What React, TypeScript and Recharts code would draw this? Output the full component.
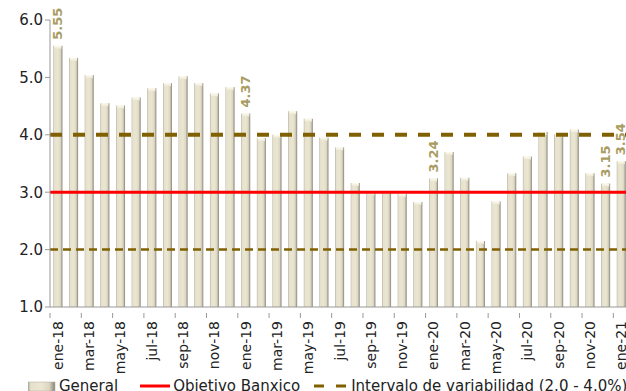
import React from "react";
import { BarChart, Bar, XAxis, YAxis, ReferenceLine, LabelList, Legend } from "recharts";

// months ene-18 .. ene-21
const months = [
  "ene-18", "feb-18", "mar-18", "abr-18", "may-18", "jun-18", "jul-18", "ago-18", "sep-18", "oct-18", "nov-18", "dic-18",
  "ene-19", "feb-19", "mar-19", "abr-19", "may-19", "jun-19", "jul-19", "ago-19", "sep-19", "oct-19", "nov-19", "dic-19",
  "ene-20", "feb-20", "mar-20", "abr-20", "may-20", "jun-20", "jul-20", "ago-20", "sep-20", "oct-20", "nov-20", "dic-20",
  "ene-21",
];

const general = [
  5.55, 5.34, 5.04, 4.55, 4.51, 4.65, 4.81, 4.90, 5.02, 4.90, 4.72, 4.83,
  4.37, 3.94, 4.00, 4.41, 4.28, 3.95, 3.78, 3.16, 3.00, 3.02, 2.97, 2.83,
  3.24, 3.70, 3.25, 2.15, 2.84, 3.33, 3.62, 4.05, 4.01, 4.09, 3.33, 3.15,
  3.54,
];

const labeled = ["ene-18", "ene-19", "ene-20", "dic-20", "ene-21"];

const objetivo = 3.0;
const intervalo = [2.0, 4.0];
const yTicks = [1, 2, 3, 4, 5, 6];

const data = months.map((m, i) => ({ mes: m, general: general[i] }));

const FONT = "'DejaVu Sans', sans-serif";
const W = 640;
const H = 400;
const margin = { top: 20, right: 11, left: 0, bottom: 0 };
const yAxisW = 50;
const band = (W - margin.left - margin.right - yAxisW) / months.length;

const BarShape = (props: any) => {
  const { x, y, width, height } = props;
  if (!height || height <= 0) return null;
  return (
    <g>
      <rect x={x} y={y} width={width} height={height} fill="url(#barGrad)" />
      <rect x={x + 1} y={y} width={width - 2} height={3} fill="url(#capGrad)" />
    </g>
  );
};

const XTick = (props: any) => {
  const { x, y, payload } = props;
  return (
    <g>
      <line x1={x - band / 2} y1={y} x2={x - band / 2} y2={y + 5} stroke="#999" />
      <text
        transform={`translate(${x + 5},${y + 8}) rotate(-90)`}
        textAnchor="end"
        fontSize={14}
        fontFamily={FONT}
        fill="#222"
      >
        {payload.value}
      </text>
    </g>
  );
};

const renderLabel = (props: any) => {
  const { x, y, width, index } = props;
  if (!labeled.includes(months[index])) return null;
  return (
    <text
      transform={`translate(${x + width / 2 + 4},${y - 6}) rotate(-90)`}
      textAnchor="start"
      fontSize={13}
      fontWeight="bold"
      fontFamily={FONT}
      fill="#a89c62"
    >
      {general[index].toFixed(2)}
    </text>
  );
};

const LegendBox = () => (
  <div style={{ display: "flex", alignItems: "center", fontFamily: FONT, fontSize: 15, color: "#222", paddingLeft: 28, paddingTop: 10 }}>
    <svg width={28} height={12}>
      <rect x={0} y={2} width={27} height={9} fill="url(#barGrad)" stroke="#b0ac9a" strokeWidth={0.5} />
    </svg>
    <span style={{ marginLeft: 3, marginRight: 22 }}>General</span>
    <svg width={30} height={12}>
      <line x1={0} y1={6} x2={30} y2={6} stroke="#ff0000" strokeWidth={3} />
    </svg>
    <span style={{ marginLeft: 3, marginRight: 14 }}>Objetivo Banxico</span>
    <svg width={36} height={12}>
      <line x1={0} y1={6} x2={36} y2={6} stroke="#806000" strokeWidth={3} strokeDasharray="10 12" />
    </svg>
    <span style={{ marginLeft: 1 }}>Intervalo de variabilidad (2.0 - 4.0%)</span>
  </div>
);

export default function App() {
  return (
    <div style={{ position: "fixed", left: 0, top: 0, width: 626, height: 391, overflow: "hidden", background: "#fff" }}>
      <BarChart width={W} height={H} data={data} margin={margin} barCategoryGap="22%">
        <defs>
          <linearGradient id="barGrad" x1="0" y1="0" x2="1" y2="0">
            <stop offset="0%" stopColor="#a9a696" />
            <stop offset="10%" stopColor="#e6e1cc" />
            <stop offset="50%" stopColor="#ebe6d2" />
            <stop offset="78%" stopColor="#dcd7c1" />
            <stop offset="100%" stopColor="#86847a" />
          </linearGradient>
          <linearGradient id="capGrad" x1="0" y1="0" x2="0" y2="1">
            <stop offset="0%" stopColor="#fffdf2" />
            <stop offset="100%" stopColor="#ebe6d2" />
          </linearGradient>
        </defs>
        <XAxis
          dataKey="mes"
          interval={1}
          height={60}
          tickLine={false}
          tickMargin={0}
          stroke="#999"
          tick={<XTick />}
        />
        <YAxis
          domain={[1, 6]}
          ticks={yTicks}
          width={yAxisW}
          stroke="#999"
          tickSize={5}
          tickFormatter={(v: number) => v.toFixed(1)}
          tick={{ fontSize: 15, fontFamily: FONT, fill: "#222" }}
          allowDataOverflow
        />
        <Legend verticalAlign="bottom" height={33} content={<LegendBox />} />
        <Bar dataKey="general" shape={<BarShape />} isAnimationActive={false}>
          <LabelList dataKey="general" content={renderLabel} />
        </Bar>
        <ReferenceLine y={objetivo} stroke="#ff0000" strokeWidth={3} />
        <ReferenceLine y={intervalo[1]} stroke="#806000" strokeWidth={4} strokeDasharray="12 11" />
        <ReferenceLine y={intervalo[0]} stroke="#806000" strokeWidth={2.5} strokeDasharray="8 5" />
      </BarChart>
    </div>
  );
}
